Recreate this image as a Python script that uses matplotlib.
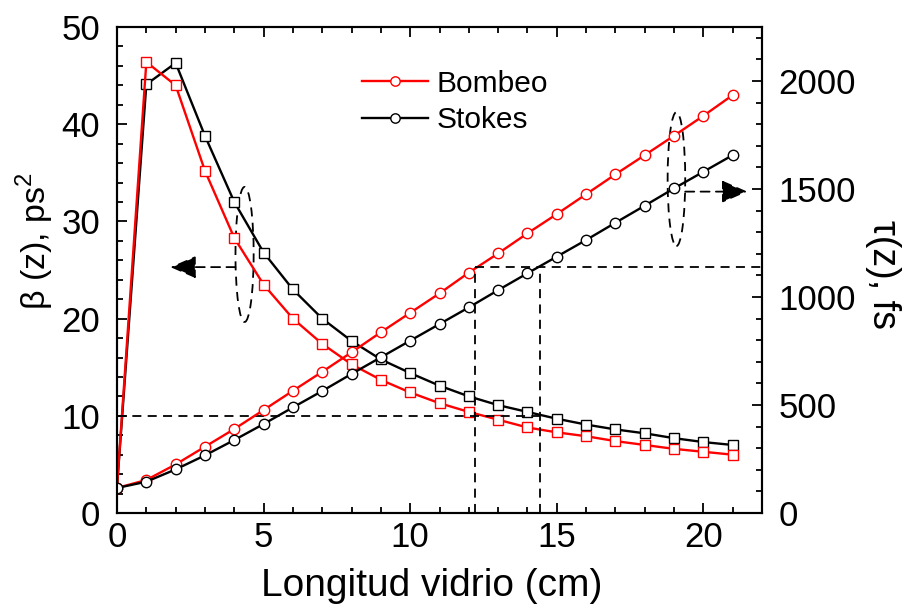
import matplotlib
matplotlib.use("Agg")
import matplotlib.pyplot as plt
from matplotlib.ticker import MultipleLocator
from matplotlib.patches import Ellipse

plt.rcParams['font.family'] = ['Liberation Sans', 'DejaVu Sans']
plt.rcParams['mathtext.fontset'] = 'custom'
plt.rcParams['mathtext.rm'] = 'Liberation Sans'

# longitud del vidrio (cm)
z = list(range(0, 22))

# beta(z), ps^2
beta_bombeo = [2.7, 46.4, 44.0, 35.2, 28.3, 23.5, 20.0, 17.4, 15.3, 13.7, 12.4,
               11.3, 10.4, 9.6, 8.8, 8.3, 7.9, 7.4, 7.0, 6.6, 6.3, 6.0]
beta_stokes = [2.7, 44.1, 46.3, 38.8, 32.0, 26.8, 23.0, 20.0, 17.7, 15.8, 14.4,
               13.1, 12.0, 11.1, 10.4, 9.7, 9.1, 8.6, 8.2, 7.7, 7.3, 7.0]

# tau(z), fs
tau_bombeo = [116, 153, 225, 307, 389, 477, 566, 654, 744, 837, 927,
              1017, 1113, 1202, 1295, 1384, 1476, 1568, 1657, 1747, 1839, 1935]
tau_stokes = [116, 145, 202, 267, 338, 412, 489, 565, 644, 721, 798,
              875, 952, 1032, 1110, 1187, 1264, 1344, 1423, 1503, 1580, 1657]

# lineas de referencia
beta_ref = 10
tau_ref = 1140
z_bombeo_ref = 12.2
z_stokes_ref = 14.42

RED = '#ff0000'
BLACK = '#000000'

fig = plt.figure(figsize=(9.1, 6.13), dpi=100)
ax = fig.add_axes([0.1286, 0.1631, 0.7088, 0.7928])
ax2 = ax.twinx()

# curvas beta (cuadrados, eje izquierdo)
ax.plot(z, beta_stokes, '-', color=BLACK, lw=1.7, marker='s', ms=7,
        mfc='white', mec=BLACK, mew=1.0, markevery=list(range(1, len(z))))
ax.plot(z, beta_bombeo, '-', color=RED, lw=1.7, marker='s', ms=7,
        mfc='white', mec=RED, mew=1.0, markevery=list(range(1, len(z))))

# curvas tau (circulos, eje derecho)
ax2.plot(z, tau_bombeo, '-', color=RED, lw=1.7, marker='o', ms=7.5,
         mfc='white', mec=RED, mew=1.0, label='Bombeo')
ax2.plot(z, tau_stokes, '-', color=BLACK, lw=1.7, marker='o', ms=7.5,
         mfc='white', mec=BLACK, mew=1.0, label='Stokes')

# lineas discontinuas
dash = dict(color='black', lw=1.3, dashes=(5, 3.5))
ax.plot([0, z_stokes_ref], [beta_ref, beta_ref], **dash)
ax2.plot([z_bombeo_ref, 22], [tau_ref, tau_ref], **dash)
ax2.plot([z_bombeo_ref, z_bombeo_ref], [0, tau_ref], **dash)
ax2.plot([z_stokes_ref, z_stokes_ref], [0, tau_ref], **dash)

# elipses y flechas
ax.add_patch(Ellipse((4.35, 26.6), 0.62, 13.9, fill=False, ec='black',
                     lw=1.3, ls=(0, (5, 3.5))))
ax2.add_patch(Ellipse((19.08, 1546), 0.6, 620, fill=False, ec='black',
                      lw=1.3, ls=(0, (5, 3.5))))
arrow = dict(arrowstyle='-|>,head_length=0.8,head_width=0.35', color='black',
             lw=1.3, linestyle=(0, (5, 3.5)), shrinkA=0, shrinkB=0,
             mutation_scale=20)
ax.annotate('', xy=(1.82, 25.3), xytext=(4.04, 25.3), arrowprops=arrow)
ax2.annotate('', xy=(21.5, 1488), xytext=(19.38, 1488), arrowprops=arrow)

# ejes
ax.set_xlim(0, 22)
ax.set_ylim(0, 50)
ax2.set_ylim(0, 2250)
ax.xaxis.set_major_locator(MultipleLocator(5))
ax.xaxis.set_minor_locator(MultipleLocator(1))
ax.yaxis.set_major_locator(MultipleLocator(10))
ax.yaxis.set_minor_locator(MultipleLocator(2))
ax2.yaxis.set_major_locator(MultipleLocator(500))
ax2.yaxis.set_minor_locator(MultipleLocator(100))

ax.tick_params(which='both', direction='in', top=True, right=False,
               labelsize=25, width=1.3)
ax.tick_params(axis='y', pad=12)
ax.tick_params(axis='x', pad=6)
ax.tick_params(which='major', length=7)
ax.tick_params(which='minor', length=4)
ax2.tick_params(which='both', direction='in', labelsize=25, width=1.3, pad=12)
ax2.tick_params(which='major', length=7)
ax2.tick_params(which='minor', length=4)

for a in (ax, ax2):
    for s in a.spines.values():
        s.set_linewidth(1.5)

ax.set_xlabel('Longitud vidrio (cm)', fontsize=28, labelpad=10)
ax.xaxis.label.set_x(0.488)
ax.set_ylabel('β (z), ps$^{2}$', fontsize=24.5, labelpad=4)
ax.yaxis.label.set_y(0.56)
ax2.set_ylabel('τ(z), fs', fontsize=27, rotation=270, labelpad=32)
ax2.yaxis.label.set_y(0.49)

ax2.legend(loc='upper left', bbox_to_anchor=(0.38, 0.912), frameon=False,
           fontsize=21.5, handlelength=2.2, handletextpad=0.3,
           labelspacing=0.28, markerscale=0.9, borderpad=0,
           borderaxespad=0)

fig.savefig('out.png', dpi=100)
